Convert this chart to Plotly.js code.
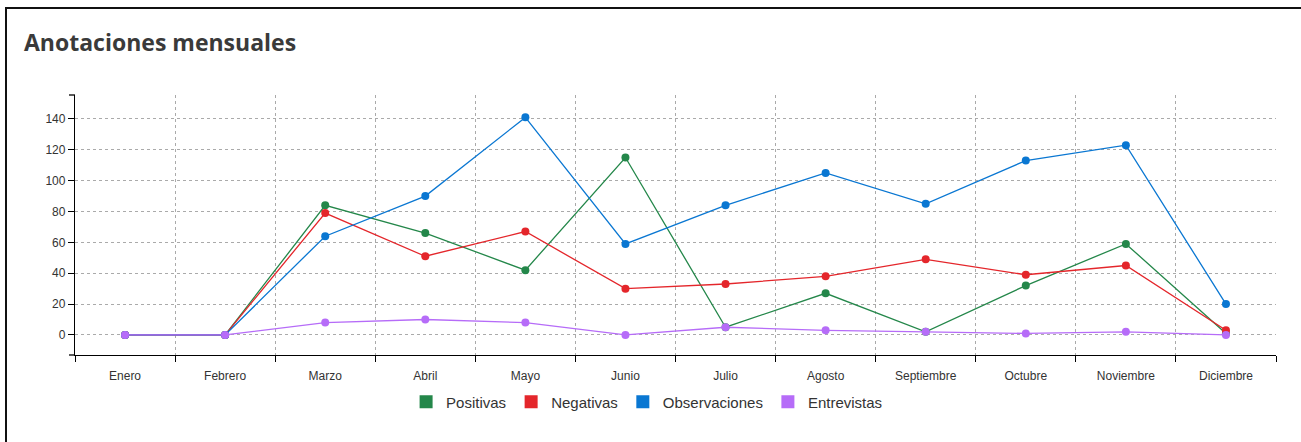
<!DOCTYPE html>
<html>
<head>
<meta charset="utf-8">
<script src="https://cdn.plot.ly/plotly-3.0.1.min.js"></script>
<style>
  html, body { margin: 0; padding: 0; background: #fff; }
  #chart { position: absolute; left: 0; top: 0; width: 1301px; height: 442px; }
  #frame { position: absolute; left: 5px; top: 7px; width: 1400px; height: 500px;
           border-top: 2px solid #111; border-left: 2px solid #111; pointer-events: none; }
</style>
</head>
<body>
<div id="chart"></div>
<div id="frame"></div>
<script>
const months = ["Enero","Febrero","Marzo","Abril","Mayo","Junio","Julio","Agosto","Septiembre","Octubre","Noviembre","Diciembre"];
const positivas     = [0, 0, 84, 66, 42, 115, 5, 27, 2, 32, 59, 1];
const negativas     = [0, 0, 79, 51, 67, 30, 33, 38, 49, 39, 45, 3];
const observaciones = [0, 0, 64, 90, 141, 59, 84, 105, 85, 113, 123, 20];
const entrevistas   = [0, 0, 8, 10, 8, 0, 5, 3, 2, 1, 2, 0];
const yTicks = [0, 20, 40, 60, 80, 100, 120, 140];

const series = [
  {name: "Positivas", y: positivas, color: "#24874a"},
  {name: "Negativas", y: negativas, color: "#e4262b"},
  {name: "Observaciones", y: observaciones, color: "#0a77d2"},
  {name: "Entrevistas", y: entrevistas, color: "#b66cf8"}
];

const traces = [];
series.forEach(s => {
  traces.push({
    type: "scatter", mode: "lines+markers", x: months, y: s.y, name: s.name,
    line: {color: s.color, width: 1.3},
    marker: {color: s.color, size: 8},
    showlegend: false, hoverinfo: "x+y+name"
  });
});
series.forEach(s => {
  traces.push({
    type: "scatter", mode: "markers", x: [months[0]], y: [null], name: s.name,
    marker: {color: s.color, size: 13, symbol: "square"},
    showlegend: true, hoverinfo: "skip"
  });
});

const tickFont = {family: "Liberation Sans, Arial, sans-serif", size: 12, color: "#333"};

const layout = {
  width: 1301, height: 442,
  margin: {l: 75, r: 25, t: 95, b: 87},
  paper_bgcolor: "#fff", plot_bgcolor: "#fff",
  title: {
    text: "Anotaciones mensuales",
    font: {family: "Open Sans, sans-serif", size: 23, weight: "bold", color: "#3a3a3a"},
    xref: "container", yref: "container",
    x: 24/1301, xanchor: "left", y: 1 - 43/442, yanchor: "middle"
  },
  xaxis: {
    type: "category", range: [-0.5, 11.5],
    tickson: "boundaries", ticks: "outside", ticklen: 6, tickcolor: "#000", tickwidth: 1,
    ticklabelstandoff: 9,
    showline: true, linecolor: "#000", linewidth: 1.3,
    showgrid: true, gridcolor: "#aaa", griddash: "3px,3px", gridwidth: 1,
    tickfont: tickFont, fixedrange: true
  },
  yaxis: {
    range: [-13, 155.5], tickvals: yTicks, ticktext: yTicks.map(String),
    ticks: "outside", ticklen: 6, tickcolor: "#000", tickwidth: 1,
    showline: true, linecolor: "#000", linewidth: 1.3,
    showgrid: true, gridcolor: "#aaa", griddash: "3px,3px", gridwidth: 1,
    zeroline: false, tickfont: tickFont, fixedrange: true
  },
  shapes: [
    {type: "line", xref: "paper", yref: "paper", x0: -6/1201, x1: 0, y0: 1, y1: 1, line: {color: "#000", width: 1.3}},
    {type: "line", xref: "paper", yref: "paper", x0: -6/1201, x1: 0, y0: 0, y1: 0, line: {color: "#000", width: 1.3}},
    {type: "line", xref: "paper", yref: "paper", x0: 1.0008, x1: 1.0008, y0: 0.004, y1: 1, layer: "above", line: {color: "#fff", width: 2}}
  ],
  showlegend: true,
  legend: {
    orientation: "h", xref: "container", yref: "container",
    x: 0.497, xanchor: "center", y: 1 - 402/442, yanchor: "middle",
    font: {family: "Liberation Sans, Arial, sans-serif", size: 15, color: "#333"},
    itemwidth: 30, tracegroupgap: 0, bgcolor: "rgba(0,0,0,0)"
  },
  hovermode: "closest"
};

Plotly.newPlot("chart", traces, layout, {displayModeBar: false, staticPlot: false});
</script>
</body>
</html>
